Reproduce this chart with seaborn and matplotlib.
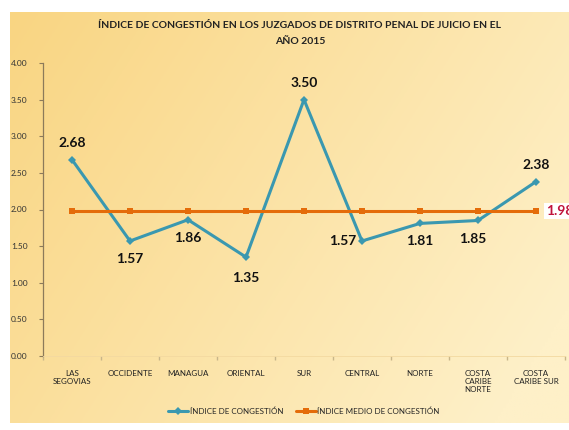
import matplotlib
matplotlib.use("Agg")
import matplotlib.pyplot as plt
import numpy as np
import pandas as pd
import seaborn as sns

categories = ["LAS\nSEGOVIAS", "OCCIDENTE", "MANAGUA", "ORIENTAL", "SUR",
              "CENTRAL", "NORTE", "COSTA\nCARIBE\nNORTE", "COSTA\nCARIBE SUR"]
congestion = [2.68, 1.57, 1.86, 1.35, 3.50, 1.57, 1.81, 1.85, 2.38]
mean_congestion = [1.98] * len(categories)
yticks = [0.0, 0.5, 1.0, 1.5, 2.0, 2.5, 3.0, 3.5, 4.0]

sns.set_theme(style="white")
plt.rcParams["font.family"] = ["Lato", "DejaVu Sans"]

df = pd.DataFrame({
    "region": categories * 2,
    "value": congestion + mean_congestion,
    "serie": ["ÍNDICE DE CONGESTIÓN"] * len(categories)
             + ["ÍNDICE MEDIO DE CONGESTIÓN"] * len(categories),
})

fig = plt.figure(figsize=(5.69, 4.30), dpi=100)
fig.patch.set_facecolor("white")

# gradient background panel
bg = fig.add_axes([10 / 569, 7 / 430, 1 - 10 / 569, 411 / 430])
gx, gy = np.meshgrid(np.linspace(0, 1, 200), np.linspace(0, 1, 200))
t = np.clip(0.75 * gx + 0.35 * gy, 0, 1)
c0 = np.array([249, 213, 130]) / 255
c1 = np.array([254, 240, 200]) / 255
img = c0[None, None, :] * (1 - t[..., None]) + c1[None, None, :] * t[..., None]
bg.imshow(img, aspect="auto", extent=[0, 1, 0, 1])
bg.set_axis_off()

ax = fig.add_axes([43 / 569, 74 / 430, 522 / 569, 293 / 430])
ax.set_facecolor("none")

palette = {"ÍNDICE DE CONGESTIÓN": "#3A98B0",
           "ÍNDICE MEDIO DE CONGESTIÓN": "#E46C0A"}
sns.lineplot(data=df, x="region", y="value", hue="serie", style="serie",
             palette=palette, markers={"ÍNDICE DE CONGESTIÓN": "D",
                                       "ÍNDICE MEDIO DE CONGESTIÓN": "s"},
             dashes=False, linewidth=2.2, markersize=4.5, markeredgewidth=0,
             sort=False, ax=ax)

ax.set_xlim(-0.5, len(categories) - 0.5)
ax.set_ylim(0, 4)
ax.set_yticks(yticks)
ax.set_yticklabels([f"{v:.2f}" for v in yticks], fontsize=6, color="#333333")
ax.set_xticks(range(len(categories)))
ax.set_xticklabels(categories, fontsize=5.8, color="#222222")
ax.tick_params(axis="x", length=0, pad=10)
ax.tick_params(axis="y", left=True, length=3, color="#8c7a5a", width=0.8, pad=8)
ax.set_xticks(np.arange(-0.5, len(categories)), minor=True)
ax.tick_params(axis="x", which="minor", bottom=True, length=3, color="#c8b68a")
ax.set_xlabel("")
ax.set_ylabel("")
for s in ["top", "right"]:
    ax.spines[s].set_visible(False)
ax.spines["left"].set_color("#8c7a5a")
ax.spines["left"].set_linewidth(0.9)
ax.spines["bottom"].set_color("#f3d9a0")
ax.spines["bottom"].set_linewidth(0.6)

# data labels
offsets = [(0, 12), (0, -13), (0, -13), (0, -15), (0, 12),
           (-14, 0), (0, -13), (-4, -13), (0, 12)]
for i, (v, off) in enumerate(zip(congestion, offsets)):
    ax.annotate(f"{v:.2f}", (i, v), xytext=off, textcoords="offset points",
                ha="center", va="center", fontsize=10, fontweight="bold",
                color="#111111")
ax.annotate(f"{mean_congestion[-1]:.2f}", (len(categories) - 1, mean_congestion[-1]),
            xytext=(7, 0), textcoords="offset points", ha="left", va="center",
            fontsize=10, fontweight="bold", color="#C0143C", annotation_clip=False,
            bbox=dict(boxstyle="square,pad=0.15", fc="white", ec="none"))

ax.legend(loc="upper center", bbox_to_anchor=(0.5, -0.15), ncol=2, frameon=False,
          fontsize=5.8, handlelength=2.5, columnspacing=1.5, handletextpad=0.2)

fig.text(300 / 569, 1 - 25 / 430, "ÍNDICE DE CONGESTIÓN EN LOS JUZGADOS DE DISTRITO PENAL DE JUICIO EN EL",
         ha="center", va="center", fontsize=7.5, fontweight="bold", color="#222222")
fig.text(300 / 569, 1 - 42 / 430, "AÑO 2015", ha="center", va="center",
         fontsize=7.5, fontweight="bold", color="#222222")

fig.savefig("out.png", dpi=100)
